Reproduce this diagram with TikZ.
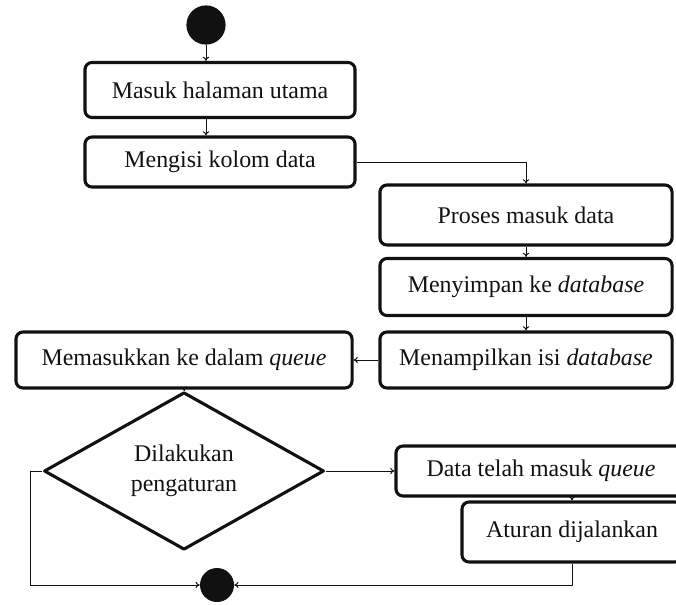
\documentclass[tikz,border=0pt]{standalone}
\usepackage{fontspec}
\setmainfont{Liberation Serif}
\usetikzlibrary{shapes.geometric,arrows.meta}
\definecolor{ink}{HTML}{111111}
\tikzset{
  action/.style={draw=ink, line width=2.2pt, rounded corners=5pt, inner sep=2pt,
    text=ink, font=\fontsize{17}{19}\selectfont},
  choice/.style={diamond, draw=ink, line width=2.2pt, inner sep=0pt, align=center,
    text=ink, font=\fontsize{17}{21}\selectfont},
  dot/.style={circle, fill=ink, inner sep=0pt},
  flow/.style={draw=ink, line width=0.7pt, -{To[length=3pt,width=4.5pt]}},
}

\begin{document}
\begin{tikzpicture}[x=0.025cm, y=-0.025cm, line join=round]
\useasboundingbox (0,0) rectangle (676,604);

\node[dot, minimum width=0.9cm, minimum height=0.98cm] (start) at (206,25) {};
\node[action, minimum width=6.75cm, minimum height=1.375cm] (masuk) at (220,90) {Masuk halaman utama};
\node[action, minimum width=6.75cm, minimum height=1.25cm] (isi) at (220,162) {Mengisi kolom data};
\node[action, minimum width=7.3cm, minimum height=1.5cm] (proses) at (526,215) {Proses masuk data};
\node[action, minimum width=7.3cm, minimum height=1.425cm] (simpan) at (526,287) {Menyimpan ke \textit{database}};
\node[action, minimum width=7.3cm, minimum height=1.4cm] (tampil) at (526,360) {Menampilkan isi \textit{database}};
\node[action, minimum width=8.4cm, minimum height=1.4cm] (antri) at (184,360) {Memasukkan ke dalam \textit{queue}};
\node[choice, minimum width=7cm, minimum height=3.15cm] (atur) at (184,471) {Dilakukan\\pengaturan};
\node[action, minimum width=7.25cm, minimum height=1.25cm] (masukq) at (541,471) {Data telah masuk \textit{queue}};
\node[action, minimum width=5.5cm, minimum height=1.5cm] (jalan) at (572,532) {Aturan dijalankan};
\node[dot, minimum size=0.85cm] (stop) at (217,585) {};

\draw[flow] (start.south) -- (start.south |- masuk.north);
\draw[flow] (start.south |- masuk.south) -- (start.south |- isi.north);
\draw[flow] (isi.east) -| (proses.north);
\draw[flow] (proses) -- (simpan);
\draw[flow] (simpan) -- (tampil);
\draw[flow] (tampil) -- (antri);
\draw[flow] (antri) -- (atur);
\draw[flow] (atur.east) -- (masukq.west);
\draw[flow] (jalan.north |- masukq.south) -- (jalan.north);
\draw[flow] (jalan.south) |- (stop.east);
\draw[flow] (atur.west) -- ++(-12,0) |- (stop.west);
\end{tikzpicture}
\end{document}
